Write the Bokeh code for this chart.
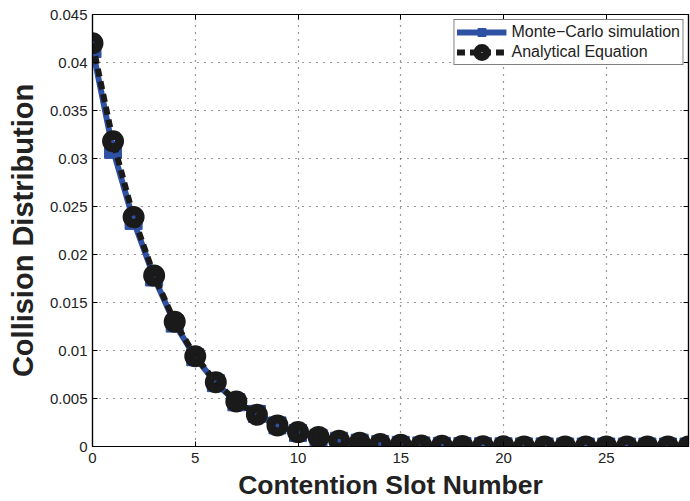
from bokeh.plotting import figure
from bokeh.models import LinearAxis, Range1d, FixedTicker, Legend, LegendItem, CustomJSTickFormatter
from bokeh.embed import file_html
from bokeh.resources import INLINE

slots = list(range(0, 30))
monte_carlo = [0.0414, 0.0309, 0.0235, 0.0176, 0.0128, 0.0093, 0.0066, 0.0046, 0.0034, 0.0022,
               0.0014, 0.0009, 0.0006, 0.0004, 0.00025, 0.00017, 0.00011, 0.00007, 0.00005, 0.00003,
               0.00002, 0.00001, 0.00001, 0.0, 0.0, 0.0, 0.0, 0.0, 0.0, 0.0]
analytical = [0.0420, 0.0318, 0.0239, 0.0178, 0.0130, 0.0094, 0.0067, 0.0047, 0.0033, 0.0022,
              0.0015, 0.0010, 0.0006, 0.0004, 0.00026, 0.00017, 0.00011, 0.00007, 0.00005, 0.00003,
              0.00002, 0.00001, 0.00001, 0.0, 0.0, 0.0, 0.0, 0.0, 0.0, 0.0]
x_ticks = [0, 5, 10, 15, 20, 25]
y_ticks = [0, 0.005, 0.01, 0.015, 0.02, 0.025, 0.03, 0.035, 0.04, 0.045]

FONT = "Liberation Sans"
BLUE = "#2f51a3"

p = figure(frame_width=596, frame_height=432, output_backend="svg", toolbar_location=None,
           x_range=Range1d(0, 29), y_range=Range1d(0, 0.045),
           min_border_left=92, min_border_top=14, min_border_right=2, min_border_bottom=10)
p.outline_line_color = "black"
p.outline_line_width = 1.2
p.background_fill_color = "white"

for ax, ticks in ((p.xaxis[0], x_ticks), (p.yaxis[0], y_ticks)):
    ax.ticker = FixedTicker(ticks=ticks)
    ax.major_tick_in = 5
    ax.major_tick_out = 0
    ax.minor_tick_in = 0
    ax.minor_tick_out = 0
    ax.axis_line_color = "black"
    ax.axis_line_width = 1.2
    ax.major_label_text_font = FONT
    ax.major_label_text_font_size = "15px"
    ax.major_label_text_color = "#222222"
    ax.axis_label_text_font = FONT
    ax.axis_label_text_font_style = "bold"
    ax.axis_label_text_color = "#222222"

p.xaxis.axis_label = "Contention Slot Number"
p.yaxis.axis_label = "Collision Distribution"
p.xaxis.axis_label_text_font_size = "26.5px"
p.yaxis.axis_label_text_font_size = "29px"
p.xaxis.major_label_standoff = 6
p.yaxis.major_label_standoff = 5
p.xaxis.axis_label_standoff = 4
p.yaxis.axis_label_standoff = 8

for loc, ticks in (("above", x_ticks), ("right", y_ticks)):
    a = LinearAxis(ticker=FixedTicker(ticks=ticks), major_tick_in=5, major_tick_out=0,
                   minor_tick_in=0, minor_tick_out=0,
                   formatter=CustomJSTickFormatter(code="return ''"),
                   major_label_standoff=0,
                   axis_line_color="black", axis_line_width=1.2)
    p.add_layout(a, loc)

p.xgrid.ticker = FixedTicker(ticks=x_ticks)
p.ygrid.ticker = FixedTicker(ticks=y_ticks)
p.grid.grid_line_color = "#333333"
p.grid.grid_line_dash = "1 6"
p.grid.grid_line_width = 1.2

mc_line = p.line(slots, monte_carlo, line_color=BLUE, line_width=6)
mc_pts = p.scatter(slots, monte_carlo, marker="square", size=17, fill_color=BLUE, line_color=BLUE)
an_line = p.line(slots, analytical, line_color="#1a1a1a", line_width=6, line_dash="8 5")
an_pts = p.scatter(slots, analytical, marker="circle", size=13, fill_color=None,
                   line_color="#1a1a1a", line_width=9)

legend = Legend(items=[LegendItem(label="Monte\u2212Carlo simulation", renderers=[mc_line, mc_pts]),
                       LegendItem(label="Analytical Equation", renderers=[an_line, an_pts])],
                location="top_right", label_text_font=FONT, label_text_font_size="16px",
                label_text_color="#222222", border_line_color="black", border_line_width=1.2,
                glyph_width=50, glyph_height=20, spacing=0, padding=2, margin=5,
                label_standoff=5, label_height=20)
p.add_layout(legend)

open("out.html", "w").write(file_html(p, INLINE))
